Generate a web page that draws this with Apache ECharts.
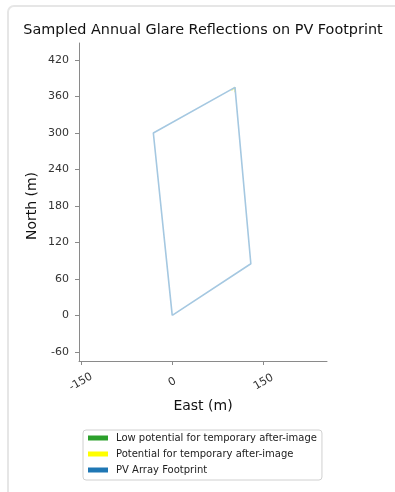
<!DOCTYPE html>
<html><head><meta charset="utf-8">
<script src="https://cdn.jsdelivr.net/npm/echarts@6/dist/echarts.min.js"></script>
<style>
html,body{margin:0;padding:0;background:#fff;}
#card{position:absolute;left:7px;top:5px;width:420px;height:520px;border:2px solid #e6e6e6;border-radius:7px;box-sizing:border-box;}
#c{position:absolute;left:0;top:0;width:395px;height:492px;}
</style></head>
<body>
<div id="card"></div>
<div id="c"></div>
<script>
const titleText = 'Sampled Annual Glare Reflections on PV Footprint';
const xName = 'East (m)';
const yName = 'North (m)';
const xTicks = [-150, 0, 150];
const yTicks = [-60, 0, 60, 120, 180, 240, 300, 360, 420];
const footprintEast = [0, 129, 103, -31, 0];
const footprintNorth = [0, 85, 375, 300, 0];
const glareEast = [97, 103, 103];
const glareNorth = [370, 375, 367];
const legendNames = ['Low potential for temporary after-image', 'Potential for temporary after-image', 'PV Array Footprint'];
const legendColors = ['#2ca02c', '#ffff00', '#1f77b4'];

const footprint = footprintEast.map((e, i) => [e, footprintNorth[i]]);
const glare = glareEast.map((e, i) => [e, glareNorth[i]]);

const chart = echarts.init(document.getElementById('c'), null, {renderer: 'canvas'});
const font = 'DejaVu Sans';
const axisColor = '#8a8a8a';
chart.setOption({
  animation: false,
  backgroundColor: 'transparent',
  graphic: [{
    type: 'text', x: 203, y: 30,
    style: {text: titleText, font: '14.4px "DejaVu Sans"', fill: '#111', align: 'center', verticalAlign: 'middle'}
  }, {
    type: 'text', x: 32.5, y: 206, rotation: Math.PI / 2,
    style: {text: yName, font: '14px "DejaVu Sans"', fill: '#111', align: 'center', verticalAlign: 'middle'}
  }],
  grid: {left: 79, right: 68, top: 43, bottom: 131},
  xAxis: {
    type: 'value', min: -153, max: 254,
    name: xName, nameLocation: 'middle', nameGap: 38,
    nameTextStyle: {fontFamily: font, fontSize: 14, color: '#111'},
    axisLine: {show: true, onZero: false, lineStyle: {color: axisColor, width: 1}},
    axisTick: {show: true, length: 4, lineStyle: {color: axisColor}, customValues: xTicks},
    axisLabel: {rotate: 30, align: 'center', verticalAlign: 'middle', fontFamily: font, fontSize: 11, color: '#333', margin: 21, customValues: xTicks},
    splitLine: {show: false}
  },
  yAxis: {
    type: 'value', min: -75, max: 448,
    axisLine: {show: true, onZero: false, lineStyle: {color: axisColor, width: 1}},
    axisTick: {show: true, length: 4, lineStyle: {color: axisColor}, customValues: yTicks},
    axisLabel: {fontFamily: font, fontSize: 11, color: '#333', margin: 10, customValues: yTicks},
    splitLine: {show: false}
  },
  legend: {
    orient: 'vertical', left: 83, top: 430,
    data: legendNames.map(n => ({name: n, icon: 'rect'})),
    itemWidth: 20, itemHeight: 5, itemGap: 6,
    padding: [3, 5, 5, 5],
    borderColor: '#d0d0d0', borderWidth: 1, borderRadius: 3,
    textStyle: {fontFamily: font, fontSize: 10, color: '#222', padding: [0, 0, 0, 3]},
    selectedMode: false
  },
  series: [
    {name: legendNames[0], type: 'line', data: [], color: legendColors[0], itemStyle: {color: legendColors[0]}},
    {name: legendNames[1], type: 'line', data: glare, color: legendColors[1], itemStyle: {color: legendColors[1]},
      showSymbol: false, lineStyle: {color: '#f2f28a', width: 1.5}, z: 1},
    {name: legendNames[2], type: 'line', data: footprint, color: legendColors[2], itemStyle: {color: legendColors[2]},
      showSymbol: false, lineStyle: {color: '#a5c8e1', width: 1.6}, z: 2}
  ]
});
</script>
</body></html>
